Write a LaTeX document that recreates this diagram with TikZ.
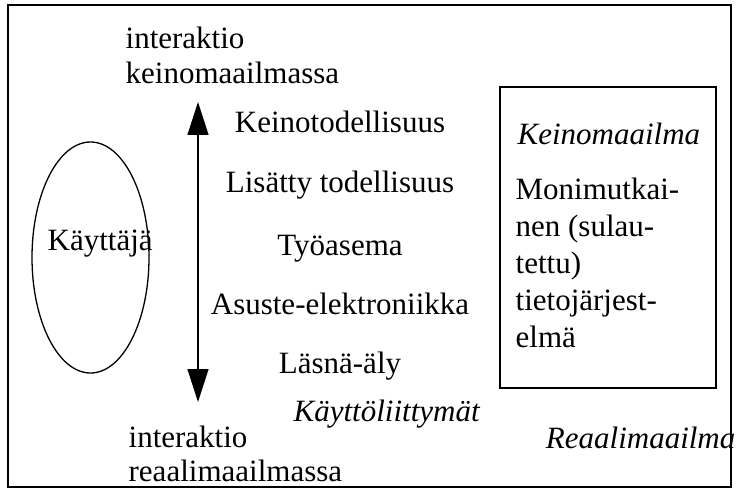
\documentclass[tikz,border=0pt]{standalone}
\usepackage{fontspec}
\setmainfont{Liberation Serif}
\usetikzlibrary{arrows.meta,shapes.geometric}

\begin{document}
\begin{tikzpicture}[x=1pt,y=-1pt,line width=1.3pt,
		>={Triangle[length = 33pt, width = 21pt]},
		word/.style = {inner sep = 0pt, font = \fontsize{31}{35}\selectfont},
		tag/.style = {word, font = \fontsize{31}{35}\selectfont\itshape}]
		\useasboundingbox (0,0) rectangle (736,492);
		\draw (8,5) rectangle (731,487);
		
		% kayttaja
		\node[ellipse,draw,inner sep = 0pt,minimum width = 117pt,minimum height = 231pt] (user) at (90.5,257.5) {};
		\node[word,anchor = base west] at (47,250) (usertext) {Käyttäjä};
		
		% nuoli
		\coordinate (up) at (198,102);
		\coordinate (down) at (198,402);
		\draw[<->] (up) -- (down);
		
		% multi-line nodes: base = last line
		\node[word,anchor = base west,align = left] at (125,84) (virtual) {interaktio\\keinomaailmassa};
		\node[word,anchor = base west,align = left,font = \fontsize{31}{34}\selectfont] at (128,481) (real) {interaktio\\reaalimaailmassa};
		
		\node[word,anchor = base] at (340,133) (1) {Keinotodellisuus};
		\node[word,anchor = base] at (340,192) (2) {Lisätty todellisuus};
		\node[word,anchor = base] at (340,255) (3) {Työasema};
		\node[word,anchor = base] at (340,314) (4) {Asuste-elektroniikka};
		\node[word,anchor = base] at (340,373) (5) {Läsnä-äly};
		\node[tag,anchor = base west] at (293,421) (ui) {Käyttöliittymät};
		
		% laatikko
		\node[draw,inner sep = 0pt,minimum width = 216pt,minimum height = 301pt] (system) at (608,237.5) {};
		\node[tag,anchor = base west] at (517,144) (systemtitle) {Keinomaailma};
		\node[word,anchor = base west,align = left,font = \fontsize{31}{37}\selectfont] at (515,347) (systemtext)
		{Monimutkai-\\nen (sulau-\\tettu)\\tietojärjest-\\elmä};
		
		\node[tag,anchor = base east] at (736,448) (world) {Reaalimaailma};
		\end{tikzpicture}
\end{document}
